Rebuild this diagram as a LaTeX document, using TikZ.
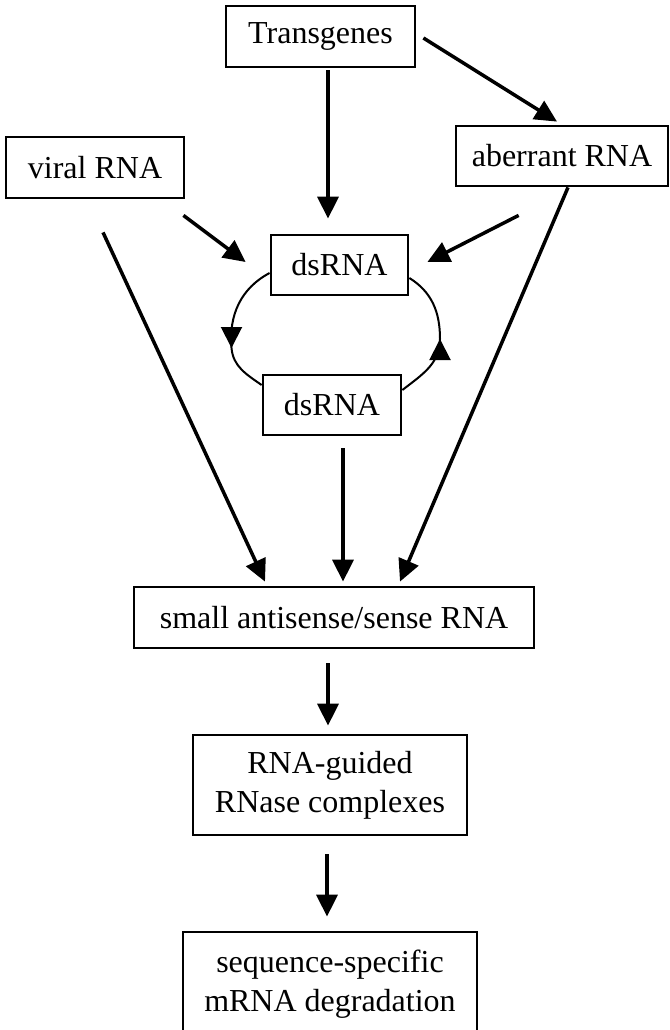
\documentclass[tikz,border=0pt]{standalone}
\usepackage{fontspec}
\setmainfont{Liberation Serif}
\usetikzlibrary{arrows.meta,calc}
\begin{document}
\begin{tikzpicture}[x=1pt,y=1pt,
  box/.style={draw,line width=2.8pt,inner sep=0pt,align=center,font=\fontsize{32}{39}\selectfont},
  arr/.style={line width=3.5pt,-{Triangle[length=22pt,width=21pt]}},
  cyc/.style={line width=2pt},
  cyca/.style={line width=2pt,-{Triangle[length=21pt,width=21pt]}}]
\path[use as bounding box,clip] (0,0) rectangle (669,-1030);
% boxes
\node[box,minimum width=189pt,minimum height=61pt] (trans) at (320.5,-36.5) {Transgenes};
\node[box,minimum width=178pt,minimum height=61pt] (viral) at (95,-167.5) {viral RNA};
\node[box,minimum width=212pt,minimum height=60pt] (aberr) at (562,-156) {aberrant RNA};
\node[box,minimum width=137pt,minimum height=60pt] (ds1) at (339.5,-265) {dsRNA};
\node[box,minimum width=138pt,minimum height=60pt] (ds2) at (332,-405) {dsRNA};
\node[box,minimum width=400pt,minimum height=61pt] (small) at (334,-617.5) {small antisense/sense RNA};
\node[box,minimum width=274pt,minimum height=100pt] (guided) at (330,-785) {RNA-guided\\RNase complexes};
\node[box,minimum width=294pt,minimum height=104pt] (seq) at (330,-984) {sequence-specific\\mRNA degradation};
% arrows
\draw[arr] ($(trans.south)+(7.5,-2)$) -- ($(ds1.north)+(-11.5,15)$);
\draw[arr] ($(trans.east)+(7,-1.5)$) -- ($(aberr.north)+(-5,3)$);
\draw[arr] ($(viral.south east)+(-2,-16)$) -- ($(ds1.west)+(-24,3)$);
\draw[arr] ($(aberr.south west)+(64,-28)$) -- ($(ds1.east)+(18,3)$);
\draw[arr] ($(viral.south)+(8,-33)$) -- ($(small.north)+(-69,4)$);
\draw[arr] ($(aberr.south)+(6,0)$) -- ($(small.north)+(66,4)$);
\draw[arr] ($(ds2.south)+(11,-12)$) -- ($(small.north)+(9,4)$);
\draw[arr] ($(small.south)+(-6,-14)$) -- ($(guided.north)+(-2,8)$);
\draw[arr] ($(guided.south)+(-3,-18)$) -- ($(seq.north)+(-3,14)$);
% cycle
\coordinate (tipL) at (231.5,-348);
\coordinate (tipR) at (440,-339);
\draw[cyc] ($(ds1.west)+(0,-8)$) to[out=208,in=95] (tipL) to[out=-85,in=145] ($(ds2.west)+(0,20)$);
\draw[cyc] ($(ds2.east)+(0,15)$) to[out=38,in=-90] (tipR) to[out=90,in=-32] ($(ds1.east)+(0,-13)$);
\draw[cyca] ($(tipL)+(0,22)$) -- (tipL);
\draw[cyca] ($(tipR)+(0,-20)$) -- (tipR);
\end{tikzpicture}
\end{document}
